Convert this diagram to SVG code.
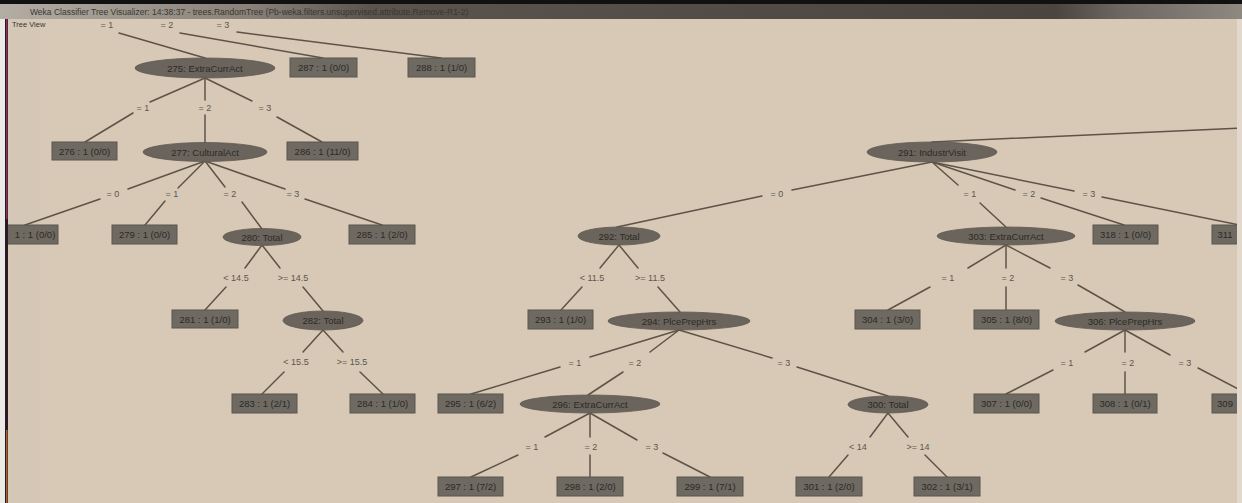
<svg xmlns="http://www.w3.org/2000/svg" width="1242" height="503" viewBox="0 0 1242 503">
<defs>
<linearGradient id="tb" x1="0" y1="0" x2="1" y2="0">
<stop offset="0" stop-color="#b3ada4"/>
<stop offset="0.2" stop-color="#8a8279"/>
<stop offset="0.3" stop-color="#5a544d"/>
<stop offset="0.85" stop-color="#4a4540"/>
<stop offset="0.9" stop-color="#6b6660"/>
<stop offset="1" stop-color="#8d8880"/>
</linearGradient>
<clipPath id="panel"><rect x="8" y="19" width="1229" height="484"/></clipPath>
<style>
.bg{fill:#d7c9b6}
.leaf{fill:#6e6961;stroke:#5b564f;stroke-width:1}
.split{fill:#6a645c;stroke:#5f5951;stroke-width:0.8}
.nt{font-family:"Liberation Sans",Arial,sans-serif;font-size:9.5px;fill:#2c2a27;text-anchor:middle;dominant-baseline:central}
.el{font-family:"Liberation Sans",Arial,sans-serif;font-size:9px;fill:#5b5650;text-anchor:middle}
.conn line{stroke:#5e5348;stroke-width:1.5;stroke-linecap:round}
.title{font-family:"Liberation Sans",Arial,sans-serif;font-size:8.5px;fill:#3a3632}
</style>
</defs>
<rect x="0" y="0" width="1242" height="503" fill="#eceae6"/>
<rect class="bg" x="8" y="19" width="1229" height="484"/>
<rect x="10" y="19" width="30" height="484" fill="#d3c6b4" opacity="0.6"/>
<rect x="1237" y="19" width="5" height="484" fill="#e2d9cc"/>
<rect x="0" y="0" width="1242" height="4" fill="#111"/>
<rect x="0" y="4" width="1242" height="15" fill="url(#tb)"/>
<text class="title" x="30" y="14.5">Weka Classifier Tree Visualizer: 14:38:37 - trees.RandomTree (Pb-weka.filters.unsupervised.attribute.Remove-R1-2)</text>
<rect x="5" y="19" width="3" height="484" fill="#2a1a22"/>
<rect x="6" y="19" width="1.5" height="200" fill="#b03a7a" opacity="0.7"/>
<rect x="6" y="430" width="1.5" height="73" fill="#d08a3a" opacity="0.7"/>
<text class="title" x="12" y="27" style="font-size:7.5px">Tree View</text>

<g clip-path="url(#panel)">
<g id="connectors" class="conn">
<line x1="119" y1="33" x2="205" y2="58"/>
<line x1="180" y1="33" x2="323" y2="58"/>
<line x1="237" y1="32" x2="441" y2="58"/>

<line x1="205" y1="78" x2="150" y2="102"/><line x1="133" y1="113" x2="85" y2="142"/>
<line x1="205" y1="78" x2="205" y2="100"/><line x1="205" y1="115" x2="205" y2="143"/>
<line x1="205" y1="78" x2="252" y2="101"/><line x1="277" y1="117" x2="322" y2="142"/>

<line x1="205" y1="161" x2="128" y2="189"/><line x1="100" y1="199" x2="25" y2="225"/>
<line x1="205" y1="161" x2="178" y2="188"/><line x1="165" y1="201" x2="145" y2="225"/>
<line x1="205" y1="161" x2="225" y2="187"/><line x1="242" y1="202" x2="262" y2="229"/>
<line x1="205" y1="161" x2="285" y2="189"/><line x1="305" y1="199" x2="382" y2="225"/>

<line x1="262" y1="245" x2="245" y2="268"/><line x1="226" y1="287" x2="205" y2="310"/>
<line x1="262" y1="245" x2="280" y2="268"/><line x1="303" y1="287" x2="323" y2="311"/>

<line x1="323" y1="330" x2="303" y2="352"/><line x1="284" y1="372" x2="262" y2="394"/>
<line x1="323" y1="330" x2="343" y2="352"/><line x1="360" y1="372" x2="383" y2="394"/>

<line x1="1240" y1="128" x2="932" y2="142"/>
<line x1="932" y1="162" x2="792" y2="190"/><line x1="762" y1="196" x2="617" y2="227"/>
<line x1="932" y1="162" x2="958" y2="185"/><line x1="980" y1="203" x2="1006" y2="227"/>
<line x1="932" y1="162" x2="1015" y2="190"/><line x1="1041" y1="198" x2="1124" y2="225"/>
<line x1="932" y1="162" x2="1074" y2="191"/><line x1="1102" y1="197" x2="1240" y2="225"/>

<line x1="619" y1="245" x2="600" y2="268"/><line x1="582" y1="287" x2="561" y2="310"/>
<line x1="619" y1="245" x2="638" y2="268"/><line x1="658" y1="287" x2="680" y2="312"/>

<line x1="679" y1="330" x2="590" y2="357"/><line x1="560" y1="367" x2="471" y2="394"/>
<line x1="679" y1="330" x2="650" y2="352"/><line x1="623" y1="372" x2="588" y2="395"/>
<line x1="679" y1="330" x2="772" y2="358"/><line x1="797" y1="367" x2="888" y2="396"/>

<line x1="590" y1="413" x2="545" y2="437"/><line x1="518" y1="455" x2="471" y2="477"/>
<line x1="590" y1="413" x2="590" y2="437"/><line x1="590" y1="455" x2="590" y2="477"/>
<line x1="590" y1="413" x2="637" y2="440"/><line x1="663" y1="453" x2="710" y2="477"/>

<line x1="888" y1="413" x2="870" y2="437"/><line x1="848" y1="455" x2="829" y2="477"/>
<line x1="888" y1="413" x2="908" y2="437"/><line x1="925" y1="455" x2="947" y2="477"/>

<line x1="1006" y1="245" x2="968" y2="268"/><line x1="930" y1="287" x2="888" y2="310"/>
<line x1="1006" y1="245" x2="1006" y2="268"/><line x1="1006" y1="287" x2="1006" y2="310"/>
<line x1="1006" y1="245" x2="1050" y2="268"/><line x1="1078" y1="285" x2="1125" y2="312"/>

<line x1="1125" y1="330" x2="1085" y2="352"/><line x1="1053" y1="370" x2="1006" y2="394"/>
<line x1="1125" y1="330" x2="1125" y2="352"/><line x1="1125" y1="372" x2="1125" y2="394"/>
<line x1="1125" y1="330" x2="1170" y2="355"/><line x1="1198" y1="368" x2="1240" y2="390"/>
</g>

<g id="edge-labels">
<text class="el" x="107" y="28">= 1</text>
<text class="el" x="167" y="28">= 2</text>
<text class="el" x="223" y="28">= 3</text>
<text class="el" x="143" y="111">= 1</text>
<text class="el" x="205" y="111">= 2</text>
<text class="el" x="265" y="111">= 3</text>
<text class="el" x="113" y="197">= 0</text>
<text class="el" x="172" y="197">= 1</text>
<text class="el" x="230" y="197">= 2</text>
<text class="el" x="293" y="197">= 3</text>
<text class="el" x="236" y="281">&lt; 14.5</text>
<text class="el" x="293" y="281">&gt;= 14.5</text>
<text class="el" x="296" y="365">&lt; 15.5</text>
<text class="el" x="352" y="365">&gt;= 15.5</text>
<text class="el" x="777" y="197">= 0</text>
<text class="el" x="970" y="197">= 1</text>
<text class="el" x="1029" y="197">= 2</text>
<text class="el" x="1089" y="197">= 3</text>
<text class="el" x="592" y="281">&lt; 11.5</text>
<text class="el" x="650" y="281">&gt;= 11.5</text>
<text class="el" x="575" y="366">= 1</text>
<text class="el" x="635" y="366">= 2</text>
<text class="el" x="784" y="366">= 3</text>
<text class="el" x="532" y="450">= 1</text>
<text class="el" x="591" y="450">= 2</text>
<text class="el" x="652" y="450">= 3</text>
<text class="el" x="858" y="450">&lt; 14</text>
<text class="el" x="918" y="450">&gt;= 14</text>
<text class="el" x="948" y="281">= 1</text>
<text class="el" x="1008" y="281">= 2</text>
<text class="el" x="1067" y="281">= 3</text>
<text class="el" x="1067" y="366">= 1</text>
<text class="el" x="1128" y="366">= 2</text>
<text class="el" x="1185" y="366">= 3</text>
</g>

<g id="n275"><ellipse class="split" cx="205" cy="68" rx="70" ry="10"/><text class="nt" x="205" y="68">275: ExtraCurrAct</text></g>
<g id="n287"><rect class="leaf" x="290" y="58" width="67" height="19"/><text class="nt" x="323.5" y="67.5">287 : 1 (0/0)</text></g>
<g id="n288"><rect class="leaf" x="408" y="58" width="67" height="19"/><text class="nt" x="441.5" y="67.5">288 : 1 (1/0)</text></g>
<g id="n276"><rect class="leaf" x="52" y="142" width="65" height="18"/><text class="nt" x="84.5" y="151">276 : 1 (0/0)</text></g>
<g id="n277"><ellipse class="split" cx="205" cy="152" rx="62" ry="9.5"/><text class="nt" x="205" y="152">277: CulturalAct</text></g>
<g id="n286"><rect class="leaf" x="287" y="142" width="71" height="18"/><text class="nt" x="322.5" y="151">286 : 1 (11/0)</text></g>
<g id="n278"><rect class="leaf" x="-7" y="225" width="65" height="19"/><text class="nt" x="35" y="234.5">1 : 1 (0/0)</text></g>
<g id="n279"><rect class="leaf" x="112" y="225" width="65" height="19"/><text class="nt" x="144.5" y="234.5">279 : 1 (0/0)</text></g>
<g id="n280"><ellipse class="split" cx="262" cy="237" rx="39" ry="8.5"/><text class="nt" x="262" y="237">280: Total</text></g>
<g id="n285"><rect class="leaf" x="349" y="225" width="66" height="19"/><text class="nt" x="382" y="234.5">285 : 1 (2/0)</text></g>
<g id="n281"><rect class="leaf" x="172" y="310" width="66" height="18"/><text class="nt" x="205" y="319">281 : 1 (1/0)</text></g>
<g id="n282"><ellipse class="split" cx="323" cy="320.5" rx="40" ry="9.5"/><text class="nt" x="323" y="320.5">282: Total</text></g>
<g id="n283"><rect class="leaf" x="232" y="394" width="65" height="19"/><text class="nt" x="264.5" y="403.5">283 : 1 (2/1)</text></g>
<g id="n284"><rect class="leaf" x="350" y="394" width="65" height="19"/><text class="nt" x="382.5" y="403.5">284 : 1 (1/0)</text></g>

<g id="n291"><ellipse class="split" cx="932" cy="152" rx="65" ry="10"/><text class="nt" x="932" y="152">291: IndustrVisit</text></g>
<g id="n292"><ellipse class="split" cx="619" cy="236" rx="41" ry="9"/><text class="nt" x="619" y="236">292: Total</text></g>
<g id="n293"><rect class="leaf" x="528" y="310" width="65" height="19"/><text class="nt" x="560.5" y="319.5">293 : 1 (1/0)</text></g>
<g id="n294"><ellipse class="split" cx="679" cy="321" rx="71" ry="9"/><text class="nt" x="679" y="321">294: PlcePrepHrs</text></g>
<g id="n295"><rect class="leaf" x="438" y="394" width="65" height="19"/><text class="nt" x="470.5" y="403.5">295 : 1 (6/2)</text></g>
<g id="n296"><ellipse class="split" cx="590" cy="404" rx="70" ry="9"/><text class="nt" x="590" y="404">296: ExtraCurrAct</text></g>
<g id="n297"><rect class="leaf" x="438" y="477" width="65" height="19"/><text class="nt" x="470.5" y="486.5">297 : 1 (7/2)</text></g>
<g id="n298"><rect class="leaf" x="557" y="477" width="66" height="19"/><text class="nt" x="590" y="486.5">298 : 1 (2/0)</text></g>
<g id="n299"><rect class="leaf" x="677" y="477" width="66" height="19"/><text class="nt" x="710" y="486.5">299 : 1 (7/1)</text></g>
<g id="n300"><ellipse class="split" cx="888" cy="404.5" rx="40" ry="8.5"/><text class="nt" x="888" y="404.5">300: Total</text></g>
<g id="n301"><rect class="leaf" x="796" y="477" width="66" height="19"/><text class="nt" x="829" y="486.5">301 : 1 (2/0)</text></g>
<g id="n302"><rect class="leaf" x="914" y="477" width="66" height="19"/><text class="nt" x="947" y="486.5">302 : 1 (3/1)</text></g>
<g id="n303"><ellipse class="split" cx="1006" cy="236" rx="69" ry="9"/><text class="nt" x="1006" y="236">303: ExtraCurrAct</text></g>
<g id="n318"><rect class="leaf" x="1093" y="225" width="65" height="19"/><text class="nt" x="1125.5" y="234.5">318 : 1 (0/0)</text></g>
<g id="n311"><rect class="leaf" x="1212" y="225" width="40" height="19"/><text class="nt" x="1225" y="234.5">311</text></g>
<g id="n304"><rect class="leaf" x="855" y="310" width="65" height="19"/><text class="nt" x="887.5" y="319.5">304 : 1 (3/0)</text></g>
<g id="n305"><rect class="leaf" x="974" y="310" width="65" height="19"/><text class="nt" x="1006.5" y="319.5">305 : 1 (8/0)</text></g>
<g id="n306"><ellipse class="split" cx="1125" cy="321" rx="70" ry="9"/><text class="nt" x="1125" y="321">306: PlcePrepHrs</text></g>
<g id="n307"><rect class="leaf" x="974" y="394" width="65" height="19"/><text class="nt" x="1006.5" y="403.5">307 : 1 (0/0)</text></g>
<g id="n308"><rect class="leaf" x="1093" y="394" width="64" height="19"/><text class="nt" x="1125" y="403.5">308 : 1 (0/1)</text></g>
<g id="n309"><rect class="leaf" x="1212" y="394" width="40" height="19"/><text class="nt" x="1225" y="403.5">309</text></g>
</g>
</svg>
